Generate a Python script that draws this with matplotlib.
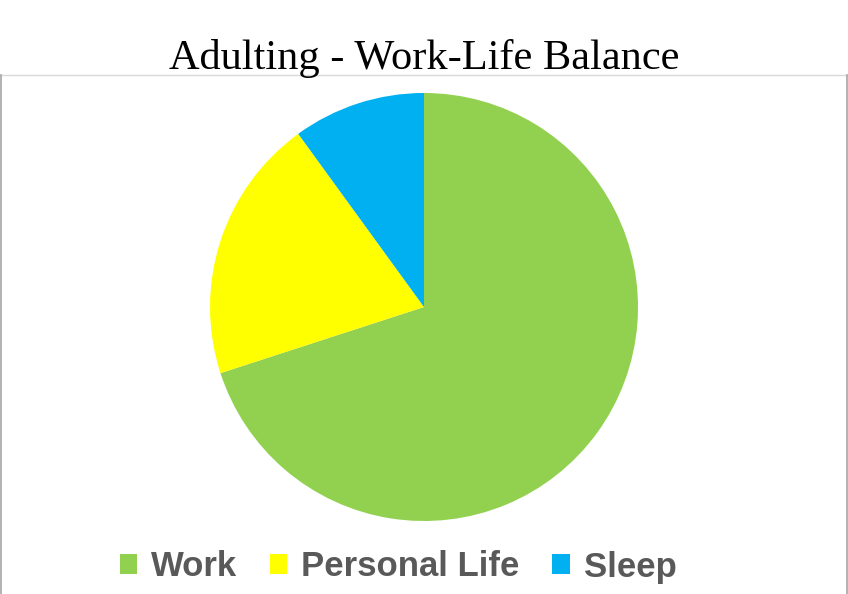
import matplotlib.pyplot as plt
from matplotlib.lines import Line2D
from matplotlib.patches import Patch

labels = ["Work", "Personal Life", "Sleep"]
values = [70, 20, 10]
colors = ["#92D050", "#FFFF00", "#00B0F0"]


def main():
    fig = plt.figure(figsize=(8.48, 5.94), dpi=100)

    # frame lines around the chart area
    top = 1 - 75 / 594
    fig.add_artist(Line2D([0, 847 / 848], [top, top], color="#D9D9D9", lw=1))
    fig.add_artist(Line2D([0.6 / 848, 0.6 / 848], [0, top], color="#A6A6A6", lw=1.2))
    fig.add_artist(Line2D([846.5 / 848, 846.5 / 848], [0, top], color="#A6A6A6", lw=1.2))

    cx, cy, r = 424 / 848, 1 - 307 / 594, 214
    ax = fig.add_axes([cx - r / 848, cy - r / 594, 2 * r / 848, 2 * r / 594])
    ax.pie(values, colors=colors, startangle=90, counterclock=False, radius=1,
           wedgeprops=dict(linewidth=0))
    ax.set_xlim(-1, 1)
    ax.set_ylim(-1, 1)
    ax.set_aspect("equal")
    ax.axis("off")

    fig.text(0.5, 1 - 58 / 594, "Adulting - Work-Life Balance", ha="center", va="center",
             fontsize=30.5, family="Liberation Serif", color="black")

    handles = [Patch(facecolor=c, edgecolor="none") for c in colors]
    fig.legend(handles, labels, loc="center", bbox_to_anchor=(398 / 848, 1 - 567 / 594),
               ncol=3, frameon=False, handlelength=0.5, handleheight=0.5,
               handletextpad=0.4, columnspacing=0.95,
               prop=dict(family="Liberation Sans", weight="bold", size=25),
               labelcolor="#595959")

    fig.savefig("out.png", dpi=100)


if __name__ == "__main__":
    main()
